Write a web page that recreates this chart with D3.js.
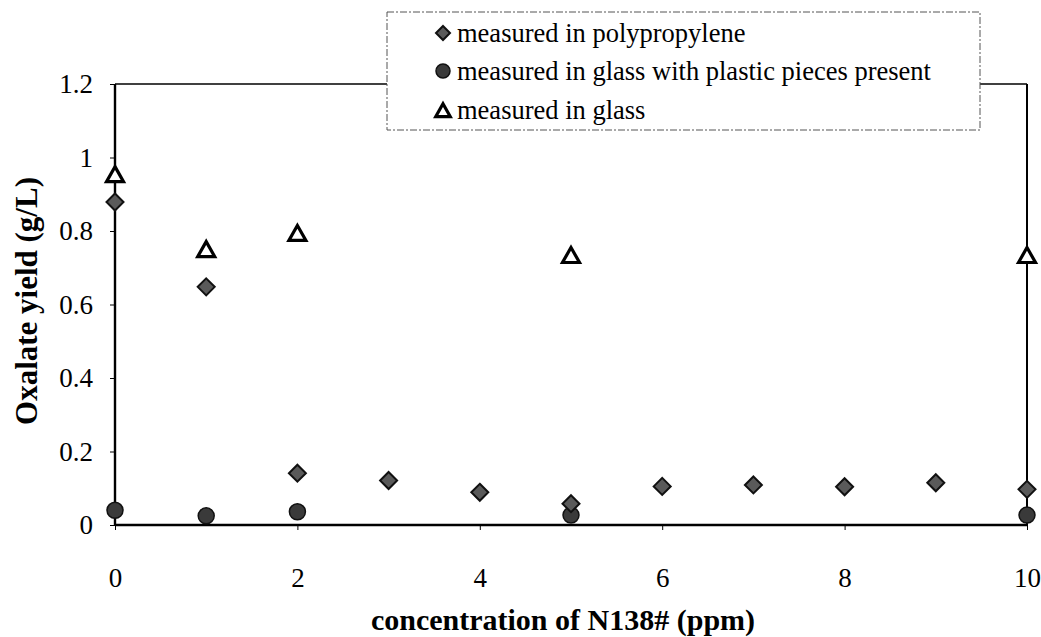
<!DOCTYPE html>
<html><head><meta charset="utf-8">
<script src="https://cdn.jsdelivr.net/npm/d3@7"></script>
<style>body{margin:0;background:#fff} text{font-family:"Liberation Serif","Times New Roman",serif}</style>
</head><body>
<svg id="c" width="1041" height="637"></svg>
<script>
const xTicks = [0, 2, 4, 6, 8, 10];
const yTicks = [0, 0.2, 0.4, 0.6, 0.8, 1, 1.2];
const ppX = [0, 1, 2, 3, 4, 5, 6, 7, 8, 9, 10];
const ppY = [0.879, 0.648, 0.141, 0.121, 0.089, 0.058, 0.105, 0.109, 0.104, 0.115, 0.097];
const gpX = [0, 1, 2, 5, 10];
const gpY = [0.040, 0.025, 0.036, 0.027, 0.027];
const gX = [0, 1, 2, 5, 10];
const gY = [0.952, 0.748, 0.792, 0.732, 0.732];
const legendLabels = ["measured in polypropylene", "measured in glass with plastic pieces present", "measured in glass"];

const serif = '"Liberation Serif","Times New Roman",serif';
const svg = d3.select("#c");
const m = {l:115, r:1027, t:84, b:525};
const x = d3.scaleLinear().domain([0,10]).range([m.l, m.r]);
const y = d3.scaleLinear().domain([0,1.2]).range([m.b, m.t]);

// frame
svg.append("line").attr("x1",m.l).attr("x2",m.r).attr("y1",m.t).attr("y2",m.t).attr("stroke","#000").attr("stroke-width",1.6);
svg.append("line").attr("x1",m.r).attr("x2",m.r).attr("y1",m.t).attr("y2",m.b).attr("stroke","#000").attr("stroke-width",2);
svg.append("line").attr("x1",m.l).attr("x2",m.l).attr("y1",m.t).attr("y2",m.b).attr("stroke","#000").attr("stroke-width",2.4);
svg.append("line").attr("x1",m.l).attr("x2",m.r).attr("y1",m.b).attr("y2",m.b).attr("stroke","#000").attr("stroke-width",2.4);

const ya = svg.append("g").attr("transform",`translate(${m.l},0)`)
  .call(d3.axisLeft(y).tickValues(yTicks).tickSize(5).tickPadding(17).tickFormat(d => String(+d.toFixed(1))));
ya.select(".domain").remove();
ya.attr("font-family", serif);
ya.selectAll("text").style("font-family", serif).style("font-size","27px").attr("fill","#000");
ya.selectAll("line").attr("stroke","#000");

const xa = svg.append("g").attr("transform",`translate(0,${m.b})`)
  .call(d3.axisBottom(x).tickValues(xTicks).tickSize(5).tickPadding(38));
xa.select(".domain").remove();
xa.attr("font-family", serif);
xa.selectAll("text").style("font-family", serif).style("font-size","27px").attr("fill","#000");
xa.selectAll("line").attr("stroke","#000");

svg.append("text").attr("x",563).attr("y",630).attr("text-anchor","middle")
  .style("font-family", serif).style("font-size","30px").style("font-weight","bold").text("concentration of N138# (ppm)");
svg.append("text").attr("transform","translate(37,301) rotate(-90)").attr("text-anchor","middle")
  .style("font-family", serif).style("font-size","31px").style("font-weight","bold").text("Oxalate yield (g/L)");

function drawDiamond(g, cx, cy, s) {
  g.append("path").attr("d", `M${cx},${cy-s}L${cx+s},${cy}L${cx},${cy+s}L${cx-s},${cy}Z`)
    .attr("fill","#5a5a5a").attr("stroke","#111").attr("stroke-width",2);
}
function drawCircle(g, cx, cy, r) {
  g.append("circle").attr("cx",cx).attr("cy",cy).attr("r",r).attr("fill","#3a3a3a").attr("stroke","#111").attr("stroke-width",1.5);
}
function drawTri(g, cx, cy, s) {
  g.append("path").attr("d", `M${cx},${cy-s*0.85}L${cx+s*0.85},${cy+s*0.65}L${cx-s*0.85},${cy+s*0.65}Z`)
    .attr("fill","#fff").attr("stroke","#000").attr("stroke-width",3.2);
}
const pts = svg.append("g");
gpX.forEach((d,i)=>drawCircle(pts, x(d), y(gpY[i]), 8));
ppX.forEach((d,i)=>drawDiamond(pts, x(d), y(ppY[i]), 8.5));
gX.forEach((d,i)=>drawTri(pts, x(d), y(gY[i]), 10));

// legend
const lg = svg.append("g");
lg.append("rect").attr("x",387).attr("y",12).attr("width",593).attr("height",118)
  .attr("fill","#fff").attr("stroke","#555").attr("stroke-width",1).attr("stroke-dasharray","7,2,2,2");
const ly = [33, 71, 110];
drawDiamond(lg, 443, ly[0], 7);
drawCircle(lg, 443, ly[1], 7);
drawTri(lg, 443, ly[2]+1, 8.5);
legendLabels.forEach((t,i)=>{
  lg.append("text").attr("x",457).attr("y",ly[i]).attr("dy","0.33em")
    .style("font-family", serif).style("font-size","26.5px").attr("fill","#000").text(t);
});
</script>
</body></html>
